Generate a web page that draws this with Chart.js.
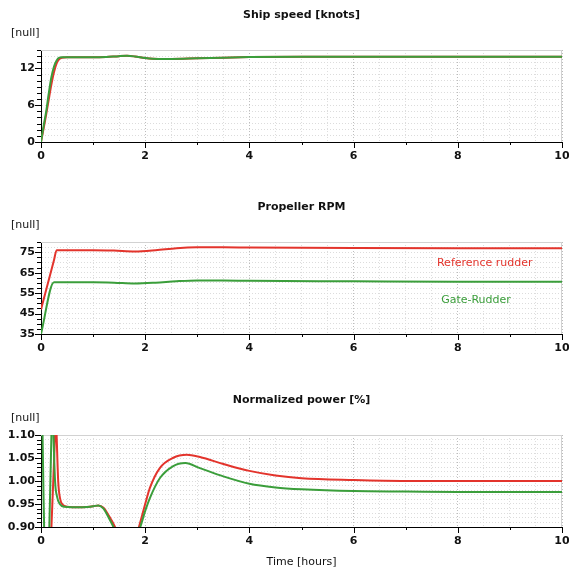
<!DOCTYPE html>
<html>
<head>
<meta charset="utf-8">
<script src="https://cdn.jsdelivr.net/npm/chart.js@4.4.1/dist/chart.umd.min.js"></script>
<style>
  html, body { margin: 0; padding: 0; background: #fff; }
  body { width: 569px; height: 569px; position: relative; overflow: hidden; }
  canvas { position: absolute; left: 0; }
</style>
</head>
<body>
<canvas id="speedChart" width="569" height="190" style="top:0px"></canvas>
<canvas id="rpmChart" width="569" height="190" style="top:192px"></canvas>
<canvas id="powerChart" width="569" height="184" style="top:385px"></canvas>
<script>
const seriesNames = ['Reference rudder', 'Gate-Rudder'];
const xTickLabels = [0, 2, 4, 6, 8, 10];

// ship speed, knots
const speedTime = [0, 0.05, 0.1, 0.15, 0.2, 0.25, 0.3, 0.35, 0.4, 0.5, 0.75, 1.0, 1.25, 1.5, 1.65, 1.8, 2.0, 2.25, 2.5, 3, 3.5, 4, 5, 6, 8, 10];
const speedReference = [0, 2.2, 4.5, 7.0, 9.4, 11.4, 12.8, 13.5, 13.75, 13.8, 13.8, 13.8, 13.85, 14.0, 14.05, 13.95, 13.7, 13.55, 13.55, 13.65, 13.75, 13.85, 13.9, 13.9, 13.9, 13.9];
const speedGate = [0, 2.6, 5.0, 8.0, 10.6, 12.3, 13.3, 13.75, 13.8, 13.8, 13.8, 13.8, 13.85, 14.0, 14.05, 13.95, 13.7, 13.55, 13.55, 13.65, 13.75, 13.85, 13.9, 13.9, 13.9, 13.9];

// propeller rpm
const rpmTime = [0, 0.25, 0.3, 0.6, 1.0, 1.4, 1.8, 2.2, 2.6, 3.0, 3.5, 4, 6, 8, 10];
const rpmReference = [47, 71.2, 76, 76, 76, 75.8, 75.4, 76.0, 77.0, 77.4, 77.4, 77.3, 77.1, 77.0, 77.0];
const rpmGate = [35, 60.3, 60.3, 60.3, 60.3, 60.1, 59.7, 60.1, 60.8, 61.2, 61.2, 61.0, 60.8, 60.6, 60.5];

// normalized power
const powerTimeReference = [0, 0.1, 0.2, 0.27, 0.285, 0.3, 0.33, 0.37, 0.42, 0.5, 0.6, 0.8, 1.0, 1.1, 1.2, 1.3, 1.42, 1.55, 1.7, 1.8, 1.88, 2.0, 2.09, 2.28, 2.53, 2.8, 3.05, 3.5, 4, 4.5, 5, 6, 7, 8, 10];
const powerReference = [0.5, 0.6, 0.9, 1.1, 1.15, 1.1, 1.0, 0.96, 0.948, 0.944, 0.943, 0.943, 0.945, 0.947, 0.942, 0.925, 0.9, 0.86, 0.85, 0.87, 0.9, 0.95, 0.985, 1.028, 1.05, 1.057, 1.052, 1.037, 1.022, 1.012, 1.006, 1.002, 1.0, 1.0, 1.0];
const powerTimeGate = [0, 0.03, 0.06, 0.09, 0.12, 0.16, 0.2, 0.22, 0.24, 0.27, 0.31, 0.36, 0.45, 0.6, 0.8, 1.0, 1.1, 1.2, 1.3, 1.4, 1.55, 1.7, 1.8, 1.9, 2.0, 2.09, 2.28, 2.53, 2.77, 3.05, 3.5, 4, 4.5, 5, 6, 7, 8, 10];
const powerGate = [1.5, 1.1, 0.9, 0.7, 0.75, 0.9, 1.1, 1.2, 1.1, 1.0, 0.965, 0.95, 0.944, 0.943, 0.943, 0.945, 0.947, 0.94, 0.92, 0.898, 0.86, 0.85, 0.87, 0.898, 0.935, 0.963, 1.006, 1.032, 1.039, 1.028, 1.01, 0.994, 0.986, 0.982, 0.978, 0.977, 0.976, 0.976];

const RED = '#e3342c';
const GREEN = '#3b9e3b';
const TICK_FONT = { family: 'DejaVu Sans', size: 11, weight: 'bold' };

const points = (t, v) => t.map((x, i) => ({ x, y: v[i] }));

// frame, tick marks and the text around each panel
const panelDecor = {
    id: 'panelDecor',
    beforeDatasetsDraw(chart) {
        const { ctx, chartArea: a } = chart;
        ctx.save();
        ctx.strokeStyle = '#d2d2d2';
        ctx.lineWidth = 1;
        ctx.beginPath();
        ctx.moveTo(a.left, a.top + 0.5);
        ctx.lineTo(a.right - 0.5, a.top + 0.5);
        ctx.lineTo(a.right - 0.5, a.bottom);
        ctx.stroke();
        ctx.restore();
    },
    afterDraw(chart, args, opts) {
        const { ctx, chartArea: a, scales: { x, y } } = chart;
        ctx.save();
        ctx.strokeStyle = '#000';
        ctx.lineWidth = 1;
        ctx.beginPath();
        for (let v = 0; v <= 10; v++) {
            const px = Math.round(x.getPixelForValue(v)) + 0.5;
            ctx.moveTo(px, a.bottom);
            ctx.lineTo(px, a.bottom + (xTickLabels.includes(v) ? 6 : 3));
        }
        y.ticks.forEach(t => {
            const py = Math.round(y.getPixelForValue(t.value)) + 0.5;
            ctx.moveTo(a.left, py);
            ctx.lineTo(a.left - (t.label ? 6 : 4), py);
        });
        ctx.stroke();

        ctx.fillStyle = '#111';
        ctx.textBaseline = 'middle';
        ctx.font = 'bold 11px "DejaVu Sans"';
        ctx.textAlign = 'center';
        ctx.fillText(opts.title, (a.left + a.right) / 2, 15);
        ctx.font = '11px "DejaVu Sans"';
        ctx.textAlign = 'left';
        ctx.fillText('[null]', 11, 33);
        if (opts.xTitle) {
            ctx.textAlign = 'center';
            ctx.fillText(opts.xTitle, (a.left + a.right) / 2, 177);
        }
        (opts.notes || []).forEach(n => {
            ctx.fillStyle = n.color;
            ctx.textAlign = 'left';
            ctx.fillText(n.text, x.getPixelForValue(n.x), y.getPixelForValue(n.y));
        });
        ctx.restore();
    }
};

function makePanel(id, cfg) {
    const canvas = document.getElementById(id);
    return new Chart(canvas.getContext('2d'), {
        type: 'line',
        data: {
            datasets: [
                { label: seriesNames[0], data: cfg.reference, borderColor: RED, order: 1 },
                { label: seriesNames[1], data: cfg.gate, borderColor: GREEN, order: 0 }
            ]
        },
        options: {
            responsive: false,
            animation: false,
            devicePixelRatio: 1,
            layout: { padding: { top: 50, right: 7, left: 0, bottom: canvas.height - 170 } },
            elements: {
                line: { borderWidth: 2, cubicInterpolationMode: 'monotone', fill: false },
                point: { radius: 0 }
            },
            plugins: {
                legend: { display: false },
                tooltip: { enabled: false },
                panelDecor: { title: cfg.title, xTitle: cfg.xTitle, notes: cfg.notes }
            },
            scales: {
                x: {
                    type: 'linear',
                    min: 0,
                    max: 10,
                    afterFit: s => { s.height = 28; s.paddingLeft = 0; s.paddingRight = 0; },
                    ticks: {
                        stepSize: 0.5,
                        autoSkip: false,
                        maxRotation: 0,
                        padding: 8,
                        color: '#111',
                        font: TICK_FONT,
                        callback: v => xTickLabels.includes(v) ? String(v) : ''
                    },
                    grid: {
                        drawTicks: false,
                        color: c => (c.tick && xTickLabels.includes(c.tick.value)) ? '#bdbdbd' : '#dedede',
                        borderDash: [1, 2]
                    },
                    border: { color: '#000', width: 1, dash: [1, 2] }
                },
                y: {
                    min: cfg.yMin,
                    max: cfg.yMax,
                    afterFit: s => { s.width = 41; s.paddingTop = 0; s.paddingBottom = 0; },
                    ticks: {
                        stepSize: cfg.yStep,
                        autoSkip: false,
                        padding: 6,
                        color: '#111',
                        font: TICK_FONT,
                        callback: cfg.yLabel
                    },
                    grid: {
                        drawTicks: false,
                        color: '#dcdcdc',
                        borderDash: [1, 2]
                    },
                    border: { color: '#000', width: 1, dash: [1, 2] }
                }
            }
        },
        plugins: [panelDecor]
    });
}

const onGrid = (v, base, step) => Math.abs((v - base) / step - Math.round((v - base) / step)) < 1e-6;

makePanel('speedChart', {
    title: 'Ship speed [knots]',
    reference: points(speedTime, speedReference),
    gate: points(speedTime, speedGate),
    yMin: 0, yMax: 15, yStep: 1,
    yLabel: v => onGrid(v, 0, 6) ? String(Math.round(v)) : ''
});

makePanel('rpmChart', {
    title: 'Propeller RPM',
    reference: points(rpmTime, rpmReference),
    gate: points(rpmTime, rpmGate),
    yMin: 35, yMax: 80, yStep: 2.5,
    yLabel: v => onGrid(v, 35, 10) ? String(Math.round(v)) : '',
    notes: [
        { text: seriesNames[0], color: RED, x: 7.6, y: 69.6 },
        { text: seriesNames[1], color: GREEN, x: 7.68, y: 51.6 }
    ]
});

makePanel('powerChart', {
    title: 'Normalized power [%]',
    xTitle: 'Time [hours]',
    reference: points(powerTimeReference, powerReference),
    gate: points(powerTimeGate, powerGate),
    yMin: 0.9, yMax: 1.1, yStep: 0.01,
    yLabel: v => onGrid(v, 0, 0.05) ? v.toFixed(2) : ''
});
</script>
</body>
</html>
